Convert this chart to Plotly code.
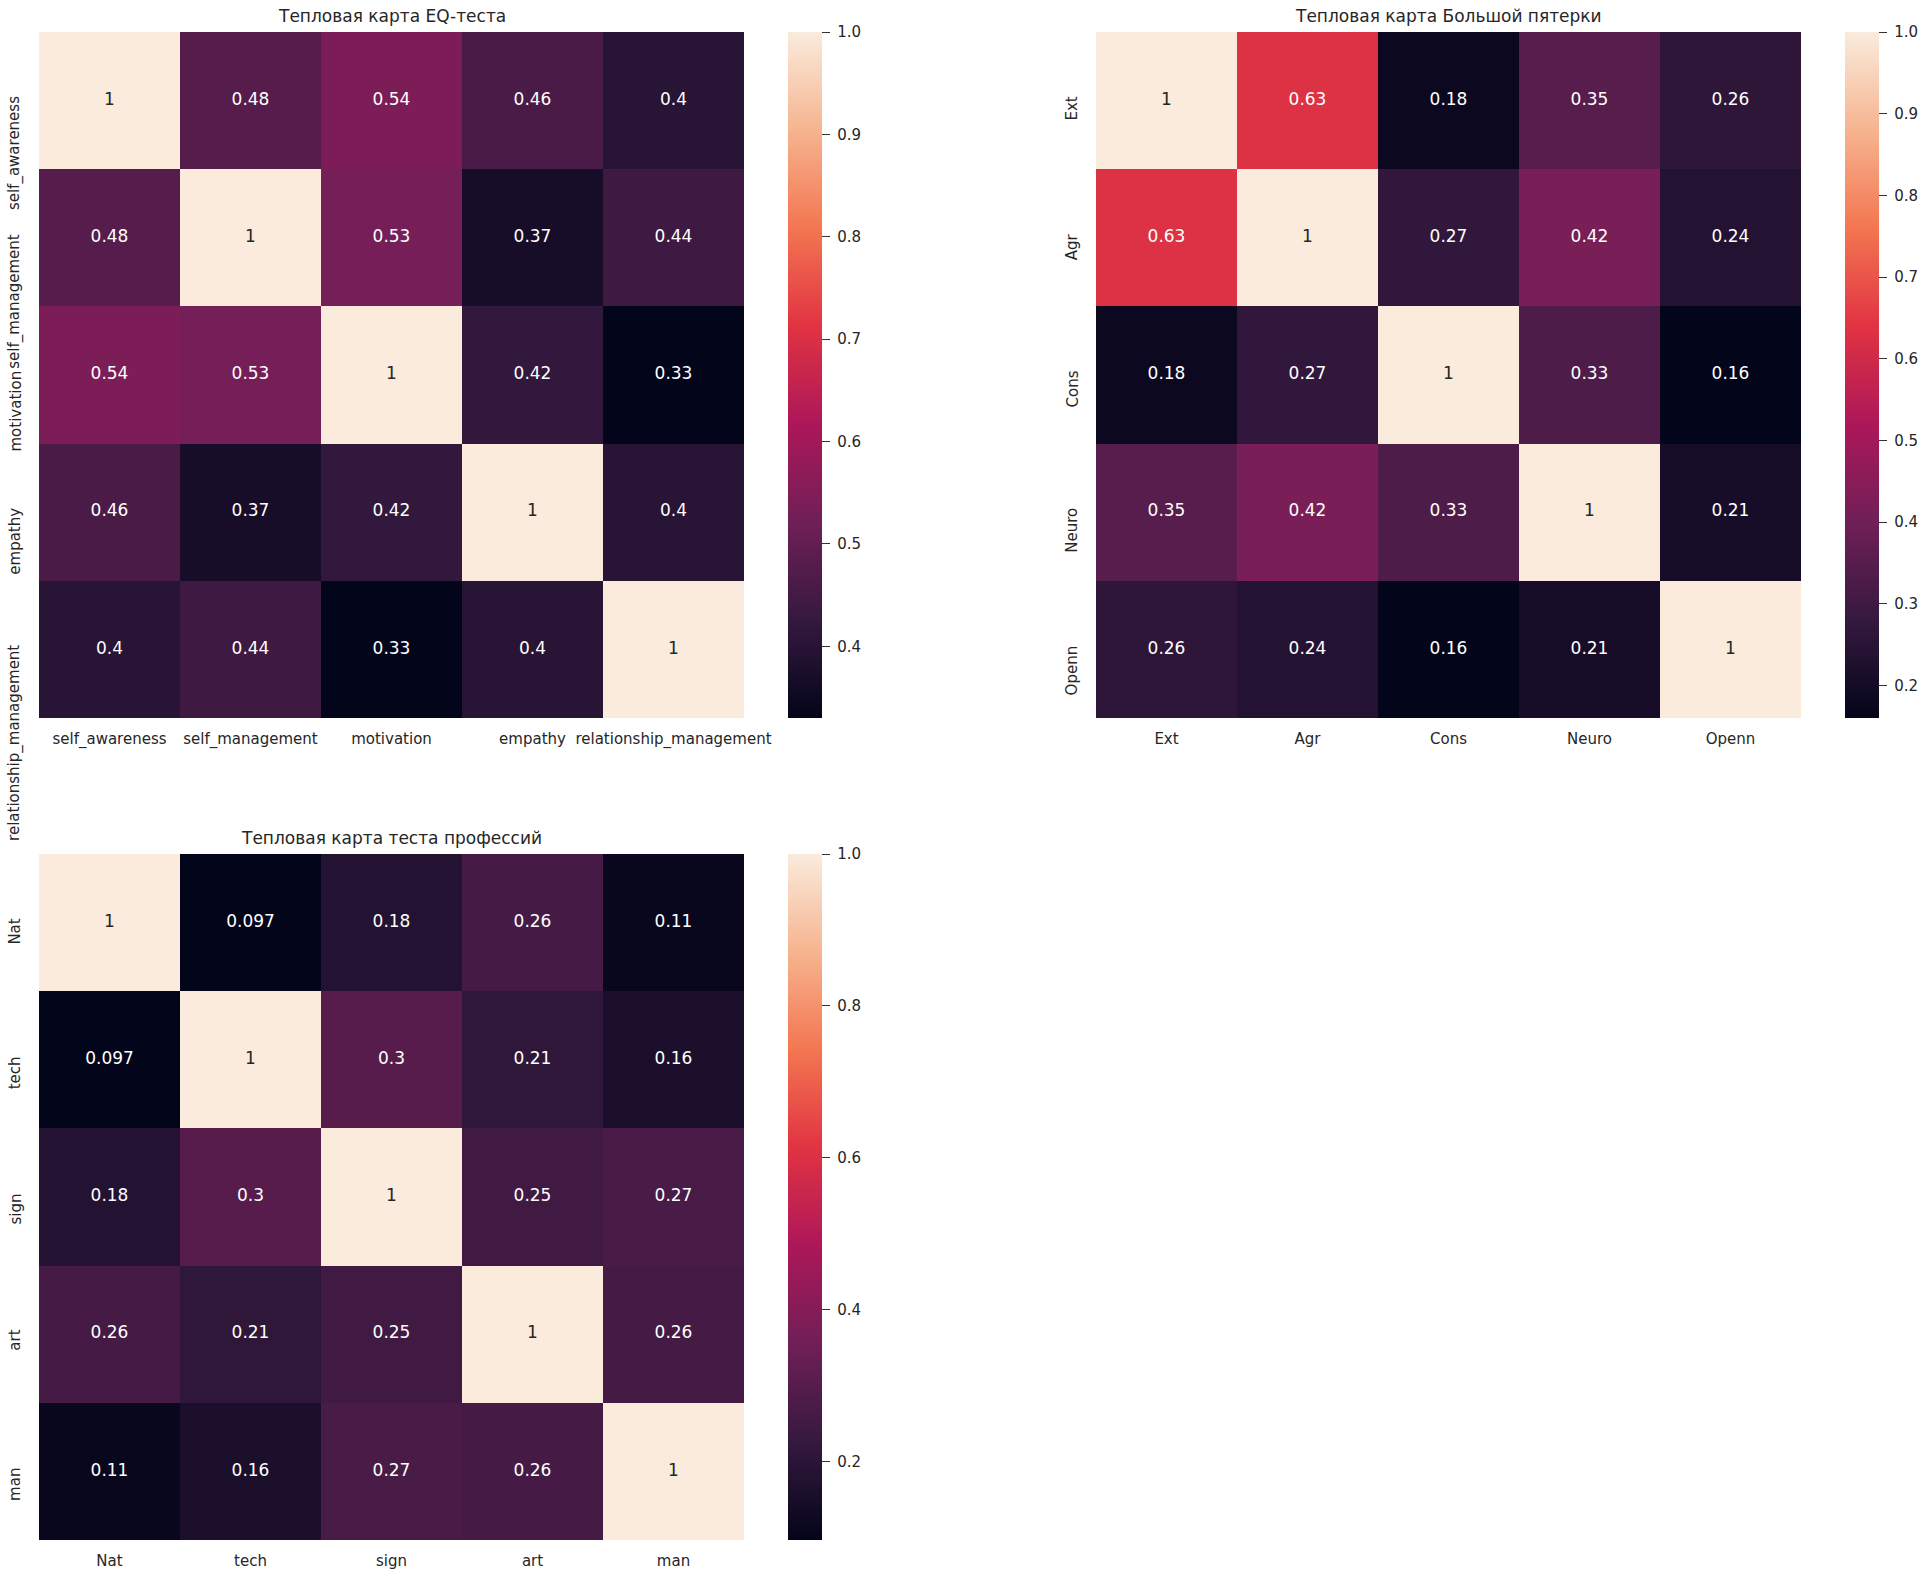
import plotly.graph_objects as go
from plotly.colors import sample_colorscale, unlabel_rgb, hex_to_rgb

# ---------------- data ----------------
eq_labels = ["self_awareness", "self_management", "motivation", "empathy", "relationship_management"]
eq_values = [
    [1.00, 0.48, 0.54, 0.46, 0.40],
    [0.48, 1.00, 0.53, 0.37, 0.44],
    [0.54, 0.53, 1.00, 0.42, 0.33],
    [0.46, 0.37, 0.42, 1.00, 0.40],
    [0.40, 0.44, 0.33, 0.40, 1.00],
]
eq_cbar_ticks = [0.4, 0.5, 0.6, 0.7, 0.8, 0.9, 1.0]
eq_cbar_text = ["0.4", "0.5", "0.6", "0.7", "0.8", "0.9", "1.0"]

b5_labels = ["Ext", "Agr", "Cons", "Neuro", "Openn"]
b5_values = [
    [1.00, 0.63, 0.18, 0.35, 0.26],
    [0.63, 1.00, 0.27, 0.42, 0.24],
    [0.18, 0.27, 1.00, 0.33, 0.16],
    [0.35, 0.42, 0.33, 1.00, 0.21],
    [0.26, 0.24, 0.16, 0.21, 1.00],
]
b5_cbar_ticks = [0.2, 0.3, 0.4, 0.5, 0.6, 0.7, 0.8, 0.9, 1.0]
b5_cbar_text = ["0.2", "0.3", "0.4", "0.5", "0.6", "0.7", "0.8", "0.9", "1.0"]

pr_labels = ["Nat", "tech", "sign", "art", "man"]
pr_values = [
    [1.000, 0.097, 0.18, 0.26, 0.11],
    [0.097, 1.000, 0.30, 0.21, 0.16],
    [0.18, 0.30, 1.000, 0.25, 0.27],
    [0.26, 0.21, 0.25, 1.000, 0.26],
    [0.11, 0.16, 0.27, 0.26, 1.000],
]
pr_cbar_ticks = [0.2, 0.4, 0.6, 0.8, 1.0]
pr_cbar_text = ["0.2", "0.4", "0.6", "0.8", "1.0"]

titles = ["Тепловая карта EQ-теста", "Тепловая карта Большой пятерки", "Тепловая карта теста профессий"]

# ---------------- style ----------------
W, H = 1926, 1580
FONT = "DejaVu Sans"
TXT = "#262626"
rocket = [
    [0.0, "#03051a"],
    [1 / 7, "#35193e"],
    [2 / 7, "#701f57"],
    [3 / 7, "#ad1759"],
    [4 / 7, "#e13342"],
    [5 / 7, "#f37651"],
    [6 / 7, "#f6b48f"],
    [1.0, "#faebdd"],
]

# pixel boxes: (left, right, top, bottom)
boxes = [(39, 744, 32, 718), (1096, 1801, 32, 718), (39, 744, 854, 1540)]
CB_OFF, CB_W = 44, 34


def px(x):
    return x / W


def py(y):
    return 1 - y / H


def fmt(v):
    return format(v, ".2g")


def lum(color):
    if color.startswith("#"):
        r, g, b = hex_to_rgb(color)
    else:
        r, g, b = unlabel_rgb(color)

    def c(x):
        x = x / 255
        return x / 12.92 if x <= 0.03928 else ((x + 0.055) / 1.055) ** 2.4
    return 0.2126 * c(r) + 0.7152 * c(g) + 0.0722 * c(b)


fig = go.Figure()
datasets = [
    (eq_labels, eq_values, eq_cbar_ticks, eq_cbar_text),
    (b5_labels, b5_values, b5_cbar_ticks, b5_cbar_text),
    (pr_labels, pr_values, pr_cbar_ticks, pr_cbar_text),
]

layout_axes = {}
annotations = []
for i, ((labels, vals, cticks, ctext), (l, r, t, b), title) in enumerate(zip(datasets, boxes, titles)):
    n = i + 1
    xa = "x" if n == 1 else f"x{n}"
    ya = "y" if n == 1 else f"y{n}"
    flat = [v for row in vals for v in row]
    zmin, zmax = min(flat), max(flat)
    fig.add_trace(go.Heatmap(
        z=vals, x=labels, y=labels, xaxis=xa, yaxis=ya,
        colorscale=rocket, zmin=zmin, zmax=zmax, hoverinfo="skip",
        colorbar=dict(
            x=px(r + CB_OFF), xanchor="left", xpad=0,
            y=py(t), yanchor="top", ypad=0,
            len=b - t, lenmode="pixels",
            thickness=CB_W, thicknessmode="pixels",
            outlinewidth=0,
            tickvals=cticks, ticktext=["\u00a0" + s for s in ctext],
            ticks="outside", ticklen=8, tickwidth=1.4, tickcolor="#333333",
            tickfont=dict(family=FONT, size=15, color=TXT),
        ),
    ))
    xs, ys, texts, colors = [], [], [], []
    for ri, row in enumerate(vals):
        for ci, v in enumerate(row):
            xs.append(labels[ci])
            ys.append(labels[ri])
            texts.append(fmt(v))
            cell = sample_colorscale(rocket, [(v - zmin) / (zmax - zmin)])[0]
            colors.append(TXT if lum(cell) > 0.408 else "white")
    fig.add_trace(go.Scatter(
        x=xs, y=ys, mode="text", text=texts, xaxis=xa, yaxis=ya,
        textfont=dict(family=FONT, size=17, color=colors),
        hoverinfo="skip", showlegend=False,
    ))
    key_x = "xaxis" if n == 1 else f"xaxis{n}"
    key_y = "yaxis" if n == 1 else f"yaxis{n}"
    nlab = len(labels)
    layout_axes[key_x] = dict(
        domain=[px(l), px(r)], anchor=ya, type="category",
        categoryorder="array", categoryarray=labels,
        range=[-0.5, nlab - 0.5],
        showgrid=False, zeroline=False, showline=False, ticks="",
        ticklabelstandoff=10,
        tickfont=dict(family=FONT, size=15, color=TXT),
    )
    layout_axes[key_y] = dict(
        domain=[py(b), py(t)], anchor=xa, type="category",
        categoryorder="array", categoryarray=labels,
        range=[nlab - 0.5, -0.5],
        showgrid=False, zeroline=False, showline=False, ticks="",
        showticklabels=False,
    )
    # rotated y tick labels, hanging below the tick as matplotlib draws them
    for lab in labels:
        annotations.append(dict(
            text=lab, xref="paper", yref=ya, x=px(l - 14), y=lab,
            xanchor="right", yanchor="top", textangle=-90, yshift=5,
            showarrow=False, borderpad=0,
            font=dict(family=FONT, size=15, color=TXT),
        ))
    annotations.append(dict(
        text=title, xref="paper", yref="paper",
        x=px((l + r) / 2), y=py(t), xanchor="center", yanchor="bottom",
        yshift=4, showarrow=False,
        font=dict(family=FONT, size=17, color=TXT),
    ))

fig.update_layout(
    width=W, height=H, margin=dict(l=0, r=0, t=0, b=0, autoexpand=False),
    paper_bgcolor="white", plot_bgcolor="white",
    showlegend=False, annotations=annotations,
    **layout_axes,
)
fig.write_html("out.html")
